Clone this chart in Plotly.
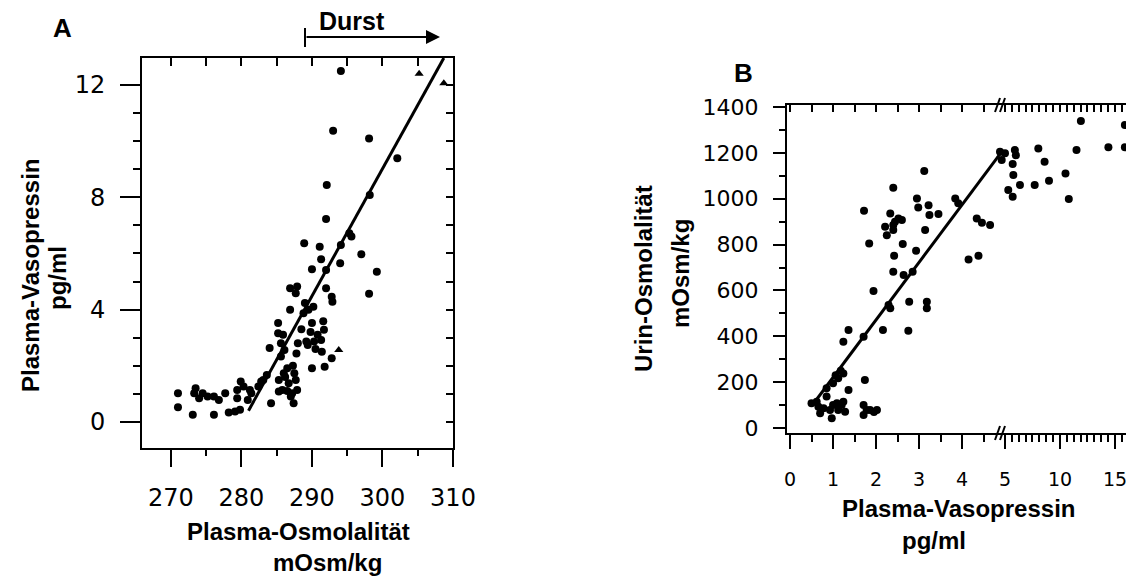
import plotly.graph_objects as go

W, H = 1126, 578

# ---- panel A: plasma osmolality vs plasma vasopressin ----
a_dots_x = [294.1, 293.0, 298.1, 302.1, 292.1, 298.2, 292.0, 295.3, 295.6, 288.9, 291.1, 294.1,
            297.0, 291.3, 294.0, 299.2, 290.0, 292.0, 298.1, 292.0, 292.8, 292.9, 286.9, 287.9,
            287.7, 289.0, 289.5, 290.2, 288.8, 286.9, 290.0, 291.6, 291.7, 291.3, 290.3, 289.2,
            288.0, 287.8, 289.4, 291.4, 292.8, 290.0, 291.8, 285.2, 285.2, 285.9, 285.6, 284.0,
            286.1, 285.6, 286.5, 286.0, 287.5, 287.7, 286.7, 285.8, 287.2, 287.4, 285.3, 284.2,
            285.3, 283.6, 282.8, 282.4, 281.4, 280.9, 281.2, 279.9, 279.4, 280.3, 279.4, 279.8,
            279.1, 278.2, 277.7, 276.8, 276.1, 275.2, 274.5, 273.5, 273.3, 274.0, 271.0, 271.0,
            273.1, 276.1, 283.1, 287.9, 289.8, 290.8, 288.5, 290.5, 286.5, 287.0, 286.2, 287.3]
a_dots_y = [12.5, 10.37, 10.09, 9.39, 8.44, 8.08, 7.23, 6.72, 6.6, 6.36, 6.24, 6.3,
            5.97, 5.79, 5.65, 5.35, 5.44, 5.41, 4.56, 4.76, 4.46, 4.28, 4.76, 4.82,
            4.58, 4.23, 3.99, 4.1, 3.87, 3.99, 3.52, 3.58, 3.28, 2.92, 2.86, 2.86,
            2.8, 2.44, 2.74, 2.5, 2.27, 1.91, 1.96, 3.52, 3.16, 3.1, 2.8, 2.63,
            2.56, 2.33, 1.91, 1.73, 1.73, 1.49, 1.38, 1.14, 1.02, 0.66, 1.49, 0.66,
            1.08, 1.67, 1.44, 1.26, 1.02, 0.78, 1.14, 1.44, 1.14, 1.26, 0.84, 0.43,
            0.37, 0.33, 1.02, 0.78, 0.9, 0.9, 1.02, 1.2, 1.02, 0.84, 1.02, 0.52,
            0.25, 0.25, 1.49, 1.14, 3.2, 3.1, 3.3, 2.6, 1.1, 0.9, 1.6, 2.0]
a_tri_x = [305.2, 308.7, 293.8]
a_tri_y = [12.4, 12.06, 2.56]
a_fit_x = [281.0, 308.7]
a_fit_y = [0.4, 12.96]

# ---- panel B: plasma vasopressin vs urine osmolality ----
b_dots_x = [0.50, 0.66, 0.70, 0.85, 0.78, 0.97, 1.0, 1.12, 1.24, 1.28, 1.2, 0.93, 1.09, 0.62,
            1.0, 1.12, 1.24, 0.85, 1.06, 1.18, 1.36, 1.24, 1.36, 1.71, 1.74, 1.71, 1.71, 1.78,
            2.02, 1.95, 1.86, 1.72, 1.84, 1.94, 2.16, 2.29, 2.33, 2.40, 2.21, 2.25, 2.33, 2.40,
            2.44, 2.52, 2.60, 2.40, 2.42, 2.40, 2.62, 2.64, 2.77, 2.75, 2.85, 2.95, 2.98, 2.93,
            3.12, 3.14, 3.22, 3.24, 3.45, 3.18, 3.18, 3.84, 3.91, 4.15, 4.38, 4.34, 4.46, 4.65,
            4.88, 4.92]
b_dots_y = [108, 93, 64, 137, 86, 42, 100, 78, 115, 71, 100, 78, 108, 115,
            195, 217, 238, 173, 230, 250, 166, 376, 427, 398, 209, 100, 57, 78,
            78, 70, 78, 948, 805, 597, 427, 536, 522, 1048, 878, 841, 936, 885,
            900, 914, 907, 863, 751, 682, 802, 667, 551, 424, 682, 1001, 962, 773,
            1121, 863, 972, 929, 933, 551, 522, 1001, 980, 735, 751, 914, 895, 885,
            1205, 1169]
# values beyond the axis break (5 pg/ml and up)
b_high_x = [5.0, 5.9, 5.99, 5.7, 5.76, 6.36, 5.3, 5.7, 8.03, 8.6, 7.7, 9.0, 10.5, 10.8,
            11.5, 11.9, 14.4, 15.9, 15.9]
b_high_y = [1198, 1212, 1190, 1151, 1103, 1060, 1038, 1009, 1219, 1161, 1060, 1078, 1110, 999,
            1212, 1339, 1224, 1224, 1321]
b_fit_x = [0.6, 4.9]
b_fit_y = [120, 1200]

a_xticks = [270, 280, 290, 300, 310]
a_yticks = [0, 4, 8, 12]
b_yticks = [0, 200, 400, 600, 800, 1000, 1200, 1400]
b_xticks = [0, 1, 2, 3, 4, 5]
b_high_ticks = [5, 10, 15]


def px(x):
    return x / W


def py(y):
    return 1 - y / H


TICKFONT = "DejaVu Sans"
TITLEFONT = "Liberation Sans"

fig = go.Figure()
dot = dict(color="black", size=8)

fig.add_trace(go.Scatter(x=a_dots_x, y=a_dots_y, mode="markers", marker=dot,
                         xaxis="x", yaxis="y", cliponaxis=False))
fig.add_trace(go.Scatter(x=a_tri_x, y=a_tri_y, mode="markers",
                         marker=dict(color="black", size=8, symbol="triangle-up"),
                         xaxis="x", yaxis="y", cliponaxis=False))
fig.add_trace(go.Scatter(x=a_fit_x, y=a_fit_y, mode="lines", line=dict(color="black", width=3),
                         xaxis="x", yaxis="y", cliponaxis=False))
fig.add_trace(go.Scatter(x=b_dots_x, y=b_dots_y, mode="markers", marker=dot,
                         xaxis="x2", yaxis="y2", cliponaxis=False))
fig.add_trace(go.Scatter(x=b_fit_x, y=b_fit_y, mode="lines", line=dict(color="black", width=3),
                         xaxis="x2", yaxis="y2", cliponaxis=False))
fig.add_trace(go.Scatter(x=b_high_x, y=b_high_y, mode="markers", marker=dot,
                         xaxis="x5", yaxis="y2", cliponaxis=False))
# empty traces so the overlay axes (inside ticks on top / right) get drawn
for xa, ya in [("x3", "y"), ("x", "y3"), ("x4", "y2"), ("x6", "y2")]:
    fig.add_trace(go.Scatter(x=[], y=[], xaxis=xa, yaxis=ya, hoverinfo="skip"))

line = dict(showline=True, linecolor="black", linewidth=2, showgrid=False, zeroline=False,
            tickcolor="black", tickwidth=2, automargin=False)

a_xdom = [px(142), px(453)]
a_ydom = [py(448), py(58)]
a_xr = [265.9, 310.0]
a_yr = [-0.93, 12.96]
b1_dom = [px(787), px(1003)]
b2_dom = [px(1003), 1.0]
b_ydom = [py(433), py(105)]
b_yr = [-21.8, 1408.7]
b1_r = [-0.07, 4.95]
b2_r = [4.82, 16.0]

fig.update_layout(
    width=W, height=H, margin=dict(l=0, r=0, t=0, b=0, autoexpand=False),
    paper_bgcolor="white", plot_bgcolor="white", showlegend=False,
    xaxis=dict(domain=a_xdom, anchor="y", range=a_xr, tickvals=a_xticks, ticks="outside",
               ticklen=17, ticklabelstandoff=10,
               minor=dict(ticks="outside", dtick=5, tick0=270, ticklen=6, tickcolor="black", tickwidth=2),
               tickfont=dict(family=TICKFONT, size=24, color="black"), **line),
    xaxis3=dict(overlaying="x", side="top", anchor="y", range=a_xr, dtick=5, tick0=270,
                ticks="inside", ticklen=8, showticklabels=False, **line),
    yaxis=dict(domain=a_ydom, anchor="x", range=a_yr, tickvals=a_yticks, ticks="outside",
               ticklen=20, ticklabelstandoff=10,
               minor=dict(ticks="outside", dtick=1, tick0=0, ticklen=7, tickcolor="black", tickwidth=2),
               tickfont=dict(family=TICKFONT, size=24, color="black"), **line),
    yaxis3=dict(overlaying="y", side="right", anchor="x", range=a_yr, dtick=1, tick0=0,
                ticks="inside", ticklen=7, showticklabels=False, **line),
    xaxis2=dict(domain=b1_dom, anchor="y2", range=b1_r, tickvals=b_xticks, ticks="outside",
                ticklen=14, ticklabelstandoff=14,
                minor=dict(ticks="outside", dtick=0.5, tick0=0, ticklen=7, tickcolor="black", tickwidth=2),
                tickfont=dict(family=TICKFONT, size=19, color="black"), **line),
    xaxis4=dict(overlaying="x2", side="top", anchor="y2", range=b1_r, dtick=0.5, tick0=0,
                ticks="inside", ticklen=7, showticklabels=False, **line),
    xaxis5=dict(domain=b2_dom, anchor="y2", range=b2_r, tickvals=b_high_ticks, ticks="outside",
                ticklen=14, ticklabelstandoff=14, ticklabeloverflow="allow",
                minor=dict(ticks="outside", dtick=0.625, tick0=5, ticklen=7, tickcolor="black", tickwidth=2),
                tickfont=dict(family=TICKFONT, size=19, color="black"), **line),
    xaxis6=dict(overlaying="x5", side="top", anchor="y2", range=b2_r, dtick=0.625, tick0=5,
                ticks="inside", ticklen=7, showticklabels=False, **line),
    yaxis2=dict(domain=b_ydom, anchor="x2", range=b_yr, tickvals=b_yticks, ticks="outside",
                ticklen=12, ticklabelstandoff=10,
                minor=dict(ticks="outside", dtick=100, tick0=0, ticklen=6, tickcolor="black", tickwidth=2),
                tickfont=dict(family=TICKFONT, size=22, color="black"), **line),
)

title_font = dict(family=TITLEFONT, size=24, color="black", weight="bold")


def label(text, x, y, angle=0, size=24):
    fig.add_annotation(text=text, x=px(x), y=py(y), xref="paper", yref="paper",
                       showarrow=False, textangle=angle, xanchor="center", yanchor="middle",
                       font=dict(title_font, size=size))


label("A", 62, 28, size=26)
label("B", 743, 73, size=26)
label("Plasma-Vasopressin", 30, 276, angle=-90)
label("pg/ml", 57, 278, angle=-90)
label("Plasma-Osmolalität", 298, 531)
label("mOsm/kg", 327, 562)
label("Urin-Osmolalität", 643, 279, angle=-90)
label("mOsm/kg", 681, 274, angle=-90)
label("Plasma-Vasopressin", 958, 508)
label("pg/ml", 934, 540)
label("Durst", 352, 21, size=25)

# Durst bracket with arrow
fig.add_annotation(x=px(440), y=py(37), ax=-135, ay=0, xref="paper", yref="paper",
                   axref="pixel", ayref="pixel", text="", showarrow=True,
                   arrowhead=2, arrowsize=1.4, arrowwidth=2, arrowcolor="black")
fig.add_shape(type="line", xref="paper", yref="paper", x0=px(305), x1=px(305), y0=py(28), y1=py(47),
              line=dict(color="black", width=2))

# axis-break marks on panel B
for y0 in (105, 433):
    for dx in (0, 5):
        fig.add_shape(type="line", xref="paper", yref="paper",
                      x0=px(995 + dx), x1=px(1000 + dx), y0=py(y0 + 7), y1=py(y0 - 7),
                      line=dict(color="black", width=2))

fig.write_html("out.html", config={"displayModeBar": False},
               post_script="document.body.style.margin='0';")
